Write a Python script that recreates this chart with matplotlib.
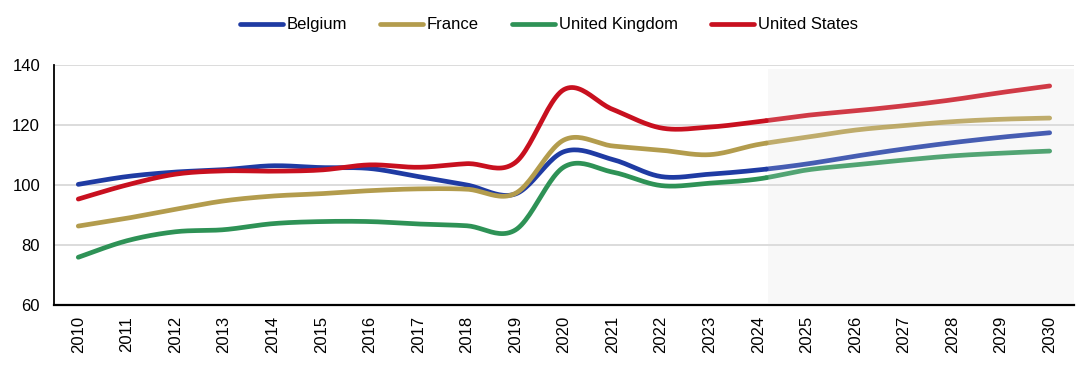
import numpy as np
import matplotlib
matplotlib.use('Agg')
import matplotlib.pyplot as plt

# Yearly index values
years = list(range(2010, 2031))
belgium = [100.2, 102.8, 104.3, 105.1, 106.4, 105.8, 105.5, 102.8, 100.0, 97.0, 111.1,
           108.5, 102.8, 103.6, 105.0, 107.0, 109.6, 112.0, 114.1, 115.9, 117.4]
france = [86.3, 88.9, 91.9, 94.7, 96.3, 97.1, 98.1, 98.7, 98.6, 97.2, 115.0,
          113.0, 111.6, 110.1, 113.5, 115.9, 118.3, 119.8, 121.1, 121.9, 122.3]
uk = [75.9, 81.4, 84.4, 85.1, 87.1, 87.8, 87.8, 87.0, 86.4, 85.0, 106.0,
      104.3, 99.8, 100.6, 102.0, 105.0, 106.7, 108.3, 109.7, 110.6, 111.3]
us = [95.3, 100.0, 103.6, 104.7, 104.6, 105.0, 106.7, 105.9, 107.1, 107.5, 131.8,
      125.2, 119.0, 119.3, 121.1, 123.2, 124.7, 126.4, 128.4, 130.8, 133.0]
names = ["Belgium", "France", "United Kingdom", "United States"]
colors = ['#1f3ba3', '#b39c4d', '#2e9256', '#c8101f']
forecast_start = 2024.2


def smooth(x, y, steps=24):
    # Excel-style smoothed line: cubic bezier segments with Catmull-Rom control points
    x = np.asarray(x, float)
    y = np.asarray(y, float)
    px = np.concatenate([[x[0]], x, [x[-1]]])
    py = np.concatenate([[y[0]], y, [y[-1]]])
    t = np.linspace(0, 1, steps, endpoint=False)[:, None]
    xs, ys = [], []
    for i in range(1, len(px) - 2):
        p0 = np.array([px[i], py[i]])
        p3 = np.array([px[i + 1], py[i + 1]])
        c1 = p0 + (np.array([px[i + 1], py[i + 1]]) - np.array([px[i - 1], py[i - 1]])) / 6.0
        c2 = p3 - (np.array([px[i + 2], py[i + 2]]) - np.array([px[i], py[i]])) / 6.0
        pts = ((1 - t) ** 3) * p0 + 3 * ((1 - t) ** 2) * t * c1 + 3 * (1 - t) * t ** 2 * c2 + t ** 3 * p3
        xs.append(pts[:, 0])
        ys.append(pts[:, 1])
    xs.append([x[-1]])
    ys.append([y[-1]])
    return np.concatenate(xs), np.concatenate(ys)


plt.rcParams.update({'font.family': 'sans-serif', 'font.sans-serif': ['Liberation Sans', 'Arial']})
fig = plt.figure(figsize=(10.8, 3.67), dpi=100, facecolor='white')
ax = fig.add_axes([0.05, 0.169, 0.9444, 0.654])

# projection area
ax.axvspan(forecast_start, 2030.5, ymin=0.01, ymax=0.985, color='#f8f8f8', lw=0, zorder=0)

for vals, name, col in zip([belgium, france, uk, us], names, colors):
    sx, sy = smooth(years, vals)
    past = sx <= forecast_start
    ax.plot(sx[past], sy[past], color=col, lw=3.4, solid_capstyle='round', zorder=3, label=name)
    i0 = max(np.argmax(~past) - 1, 0)
    ax.plot(sx[i0:], sy[i0:], color=col, lw=3.4, alpha=0.82, solid_capstyle='round', zorder=3)

ax.set_xlim(2009.5, 2030.5)
ax.set_ylim(60, 140)
ax.set_yticks([60, 80, 100, 120, 140])
ax.set_xticks(years)
ax.set_xticklabels([str(y) for y in years], rotation=90)
ax.grid(axis='y', color='#d9d9d9', lw=1.3, zorder=1)
ax.set_axisbelow(True)
ax.tick_params(length=0, labelsize=12, colors='black')
ax.tick_params(axis='x', pad=8)
ax.tick_params(axis='y', pad=10)

for s in ['top', 'right']:
    ax.spines[s].set_visible(False)
ax.spines['left'].set_color('black')
ax.spines['bottom'].set_color('black')
ax.spines['left'].set_linewidth(1.3)
ax.spines['bottom'].set_linewidth(1.6)

fig.legend(loc='center', bbox_to_anchor=(0.508, 0.932), ncol=4, frameon=False,
           fontsize=12, handlelength=2.6, handletextpad=0.2, columnspacing=2.0)

plt.savefig('out.png', dpi=100, facecolor='white')
